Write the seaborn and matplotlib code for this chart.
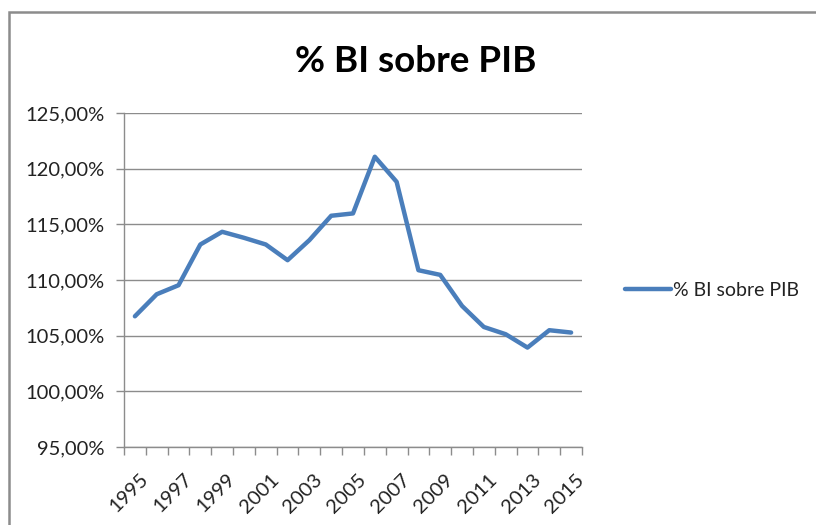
import matplotlib
matplotlib.use("Agg")
import matplotlib.pyplot as plt
import seaborn as sns
import pandas as pd
import numpy as np
from matplotlib.patches import Rectangle

years = list(range(1995, 2016))
values = [106.74, 108.72, 109.53, 113.19, 114.33, 113.79, 113.19, 111.78, 113.58,
          115.77, 115.98, 121.07, 118.82, 110.88, 110.46, 107.67, 105.78, 105.13,
          103.93, 105.49, 105.28]
series_name = "% BI sobre PIB"
yticks = [95, 100, 105, 110, 115, 120, 125]
xlabel_years = list(range(1995, 2016, 2))

df = pd.DataFrame({"year": years, "value": values, "serie": series_name})

sns.set_style("white")
plt.rcParams['font.family'] = ['Lato', 'DejaVu Sans']

fig = plt.figure(figsize=(8.16, 5.25), dpi=100)
ax = fig.add_axes([124/816, 1-447/525, (582-124)/816, (447-113)/525])

sns.lineplot(data=df, x="year", y="value", hue="serie", palette=["#4A7EBB"],
             linewidth=3.2, ax=ax, legend=True)

ax.set_ylim(95, 125)
ax.set_xlim(1994.5, 2015.5)
ax.set_yticks(yticks)
ax.set_yticklabels([f"{v:.2f}%".replace(".", ",") for v in yticks], fontsize=14.5, color="#222222")
ax.yaxis.grid(True, color="#8C8C8C", linewidth=1)
ax.set_axisbelow(True)
ax.tick_params(axis="y", length=6, color="#8C8C8C", width=1, pad=8, left=True)

ax.set_xticks(np.arange(1994.5, 2016, 1))
ax.set_xticklabels([])
ax.tick_params(axis="x", which="major", length=6, color="#8C8C8C", width=1, bottom=True)
ax.set_xticks([y + 0.2 for y in xlabel_years], minor=True)
ax.set_xticklabels([str(y) for y in xlabel_years], minor=True, rotation=45,
                   ha="right", va="top", rotation_mode="anchor", fontsize=14.5, color="#222222")
ax.tick_params(axis="x", which="minor", length=0, pad=17)

for s in ["top", "right"]:
    ax.spines[s].set_visible(False)
for s in ["left", "bottom"]:
    ax.spines[s].set_color("#8C8C8C")
    ax.spines[s].set_linewidth(1)

ax.set_xlabel("")
ax.set_ylabel("")

leg = ax.legend(loc="center left", bbox_to_anchor=(1.055, 0.5 - 0.03), frameon=False,
                fontsize=14, handlelength=2.4, handletextpad=0.1)
for t in leg.get_texts():
    t.set_color("#222222")

fig.text(416/816, 1-62/525, series_name, ha="center", va="center",
         fontsize=26.5, fontweight="bold", color="#000000")

fig.patches.append(Rectangle((9/816, -0.1), 1.0, 1.1 - 12/525,
                             transform=fig.transFigure, fill=False,
                             edgecolor="#8C8C8C", linewidth=1.8))

fig.savefig("out.png", dpi=100)
